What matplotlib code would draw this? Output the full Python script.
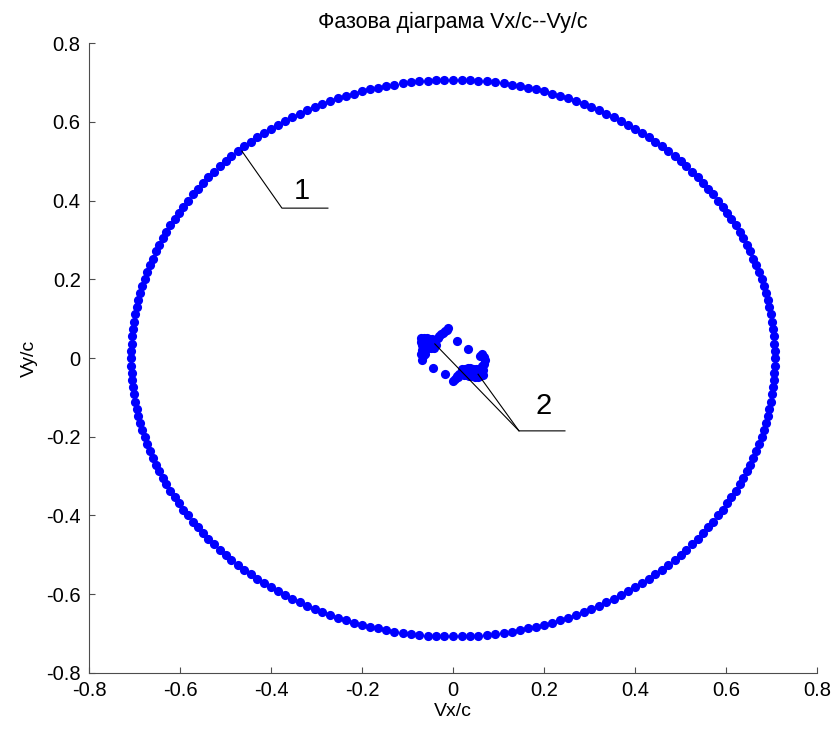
import matplotlib.pyplot as plt

plt.rcParams['font.family'] = ['Liberation Sans', 'DejaVu Sans']

# phase trajectory 1 (large orbit), Vx/c and Vy/c
vx1 = [0.707, 0.707, 0.706, 0.705, 0.703, 0.701, 0.698, 0.695, 0.692, 0.687,
       0.683, 0.678, 0.672, 0.666, 0.660, 0.653, 0.646, 0.638, 0.630, 0.621,
       0.612, 0.603, 0.593, 0.583, 0.572, 0.561, 0.549, 0.538, 0.525, 0.513,
       0.500, 0.487, 0.473, 0.459, 0.445, 0.430, 0.416, 0.400, 0.385, 0.369,
       0.354, 0.337, 0.321, 0.304, 0.288, 0.271, 0.253, 0.236, 0.218, 0.201,
       0.183, 0.165, 0.147, 0.129, 0.111, 0.092, 0.074, 0.055, 0.037, 0.019,
       0.000,
       -0.019, -0.037, -0.055, -0.074, -0.092, -0.111, -0.129, -0.147, -0.165, -0.183,
       -0.201, -0.218, -0.236, -0.253, -0.271, -0.288, -0.304, -0.321, -0.337, -0.354,
       -0.369, -0.385, -0.400, -0.416, -0.430, -0.445, -0.459, -0.473, -0.487, -0.500,
       -0.513, -0.525, -0.538, -0.549, -0.561, -0.572, -0.583, -0.593, -0.603, -0.612,
       -0.621, -0.630, -0.638, -0.646, -0.653, -0.660, -0.666, -0.672, -0.678, -0.683,
       -0.687, -0.692, -0.695, -0.698, -0.701, -0.703, -0.705, -0.706, -0.707, -0.707,
       -0.707, -0.706, -0.705, -0.703, -0.701, -0.698, -0.695, -0.692, -0.687, -0.683,
       -0.678, -0.672, -0.666, -0.660, -0.653, -0.646, -0.638, -0.630, -0.621, -0.612,
       -0.603, -0.593, -0.583, -0.572, -0.561, -0.549, -0.538, -0.525, -0.513, -0.500,
       -0.487, -0.473, -0.459, -0.445, -0.430, -0.416, -0.400, -0.385, -0.369, -0.354,
       -0.337, -0.321, -0.304, -0.288, -0.271, -0.253, -0.236, -0.218, -0.201, -0.183,
       -0.165, -0.147, -0.129, -0.111, -0.092, -0.074, -0.055, -0.037, -0.019, 0.000,
       0.019, 0.037, 0.055, 0.074, 0.092, 0.111, 0.129, 0.147, 0.165, 0.183,
       0.201, 0.218, 0.236, 0.253, 0.271, 0.288, 0.304, 0.321, 0.337, 0.354,
       0.369, 0.385, 0.400, 0.416, 0.430, 0.445, 0.459, 0.473, 0.487, 0.500,
       0.513, 0.525, 0.538, 0.549, 0.561, 0.572, 0.583, 0.593, 0.603, 0.612,
       0.621, 0.630, 0.638, 0.646, 0.653, 0.660, 0.666, 0.672, 0.678, 0.683,
       0.687, 0.692, 0.695, 0.698, 0.701, 0.703, 0.705, 0.706, 0.707]
vy1 = [0.000,
       0.019, 0.037, 0.055, 0.074, 0.092, 0.111, 0.129, 0.147, 0.165, 0.183,
       0.201, 0.218, 0.236, 0.253, 0.271, 0.288, 0.304, 0.321, 0.337, 0.354,
       0.369, 0.385, 0.400, 0.416, 0.430, 0.445, 0.459, 0.473, 0.487, 0.500,
       0.513, 0.525, 0.538, 0.549, 0.561, 0.572, 0.583, 0.593, 0.603, 0.612,
       0.621, 0.630, 0.638, 0.646, 0.653, 0.660, 0.666, 0.672, 0.678, 0.683,
       0.687, 0.692, 0.695, 0.698, 0.701, 0.703, 0.705, 0.706, 0.707, 0.707,
       0.707, 0.706, 0.705, 0.703, 0.701, 0.698, 0.695, 0.692, 0.687, 0.683,
       0.678, 0.672, 0.666, 0.660, 0.653, 0.646, 0.638, 0.630, 0.621, 0.612,
       0.603, 0.593, 0.583, 0.572, 0.561, 0.549, 0.538, 0.525, 0.513, 0.500,
       0.487, 0.473, 0.459, 0.445, 0.430, 0.416, 0.400, 0.385, 0.369, 0.354,
       0.337, 0.321, 0.304, 0.288, 0.271, 0.253, 0.236, 0.218, 0.201, 0.183,
       0.165, 0.147, 0.129, 0.111, 0.092, 0.074, 0.055, 0.037, 0.019, 0.000,
       -0.019, -0.037, -0.055, -0.074, -0.092, -0.111, -0.129, -0.147, -0.165, -0.183,
       -0.201, -0.218, -0.236, -0.253, -0.271, -0.288, -0.304, -0.321, -0.337, -0.354,
       -0.369, -0.385, -0.400, -0.416, -0.430, -0.445, -0.459, -0.473, -0.487, -0.500,
       -0.513, -0.525, -0.538, -0.549, -0.561, -0.572, -0.583, -0.593, -0.603, -0.612,
       -0.621, -0.630, -0.638, -0.646, -0.653, -0.660, -0.666, -0.672, -0.678, -0.683,
       -0.687, -0.692, -0.695, -0.698, -0.701, -0.703, -0.705, -0.706, -0.707, -0.707,
       -0.707, -0.706, -0.705, -0.703, -0.701, -0.698, -0.695, -0.692, -0.687, -0.683,
       -0.678, -0.672, -0.666, -0.660, -0.653, -0.646, -0.638, -0.630, -0.621, -0.612,
       -0.603, -0.593, -0.583, -0.572, -0.561, -0.549, -0.538, -0.525, -0.513, -0.500,
       -0.487, -0.473, -0.459, -0.445, -0.430, -0.416, -0.400, -0.385, -0.369, -0.354,
       -0.337, -0.321, -0.304, -0.288, -0.271, -0.253, -0.236, -0.218, -0.201, -0.183,
       -0.165, -0.147, -0.129, -0.111, -0.092, -0.074, -0.055, -0.037, -0.019]

# phase trajectory 2 (small cluster near origin)
vx2 = [-0.070, -0.064, -0.058, -0.052, -0.046, -0.040,
       -0.070, -0.064, -0.058, -0.052, -0.046, -0.040,
       -0.068, -0.062, -0.056, -0.050, -0.044, -0.038,
       -0.066, -0.060, -0.054, -0.048, -0.042,
       -0.034, -0.030, -0.026, -0.022, -0.018, -0.014, -0.011,
       -0.068, -0.064, -0.070, -0.066, -0.068, -0.062,
       0.009, 0.033, -0.044, -0.018,
       0.020, 0.026, 0.032, 0.038, 0.044, 0.050, 0.056, 0.062,
       0.020, 0.026, 0.032, 0.038, 0.044, 0.050, 0.056, 0.062,
       0.024, 0.030, 0.036, 0.042, 0.048, 0.054, 0.060, 0.065,
       0.064, 0.068, 0.070, 0.068, 0.064, 0.060, 0.066,
       0.014, 0.008, 0.004, 0.000, 0.010]
vy2 = [0.050, 0.051, 0.050, 0.049, 0.048, 0.047,
       0.042, 0.043, 0.042, 0.042, 0.041, 0.040,
       0.034, 0.035, 0.034, 0.034, 0.033, 0.032,
       0.027, 0.027, 0.026, 0.026, 0.025,
       0.050, 0.055, 0.060, 0.064, 0.068, 0.072, 0.076,
       0.020, 0.016, 0.010, 0.004, -0.004, 0.010,
       0.043, 0.023, -0.025, -0.041,
       -0.028, -0.027, -0.026, -0.026, -0.027, -0.028, -0.028, -0.028,
       -0.036, -0.035, -0.035, -0.035, -0.036, -0.037, -0.037, -0.036,
       -0.044, -0.044, -0.045, -0.046, -0.047, -0.047, -0.046, -0.042,
       -0.020, -0.014, -0.006, 0.002, 0.010, 0.005, -0.030,
       -0.040, -0.046, -0.052, -0.058, -0.048]

# leader lines for labels "1" and "2"
lead1_x = [-0.464, -0.376, -0.275]
lead1_y = [0.526, 0.381, 0.381]
lead2a_x = [-0.040, 0.145, 0.246]
lead2a_y = [0.036, -0.185, -0.185]
lead2b_x = [0.055, 0.145]
lead2b_y = [-0.041, -0.185]

ticks = [-0.8, -0.6, -0.4, -0.2, 0, 0.2, 0.4, 0.6, 0.8]
tick_labels = ['-0.8', '-0.6', '-0.4', '-0.2', '0', '0.2', '0.4', '0.6', '0.8']

fig = plt.figure(figsize=(8.32, 7.33), dpi=100)
ax = fig.add_axes([0.107, 0.082, 0.875, 0.859])

ax.plot(vx1, vy1, 'o', color='#0000ff', ms=6.6, mew=0)
ax.plot(vx2, vy2, 'o', color='#0000ff', ms=6.6, mew=0)

ax.plot(lead1_x, lead1_y, color='black', lw=0.8)
ax.plot(lead2a_x, lead2a_y, color='black', lw=0.8)
ax.plot(lead2b_x, lead2b_y, color='black', lw=0.8)
ax.text(-0.332, 0.425, '1', fontsize=21, ha='center', va='center')
ax.text(0.200, -0.122, '2', fontsize=21, ha='center', va='center')

ax.set_xlim(-0.8, 0.8)
ax.set_ylim(-0.8, 0.8)
ax.set_xticks(ticks)
ax.set_xticklabels(tick_labels)
ax.set_yticks(ticks)
ax.set_yticklabels(tick_labels)
ax.tick_params(direction='in', length=4, labelsize=14.5, pad=6, color='0.3')

ax.spines['top'].set_visible(False)
ax.spines['right'].set_visible(False)
ax.spines['left'].set_color('0.3')
ax.spines['bottom'].set_color('0.3')

ax.set_title('Фазова діаграма Vx/c--Vy/c', fontsize=15.5, pad=11)
ax.set_xlabel('Vx/c', fontsize=14, labelpad=2)
ax.set_ylabel('Vy/c', fontsize=14, labelpad=6)

fig.savefig('out.png', dpi=100)
